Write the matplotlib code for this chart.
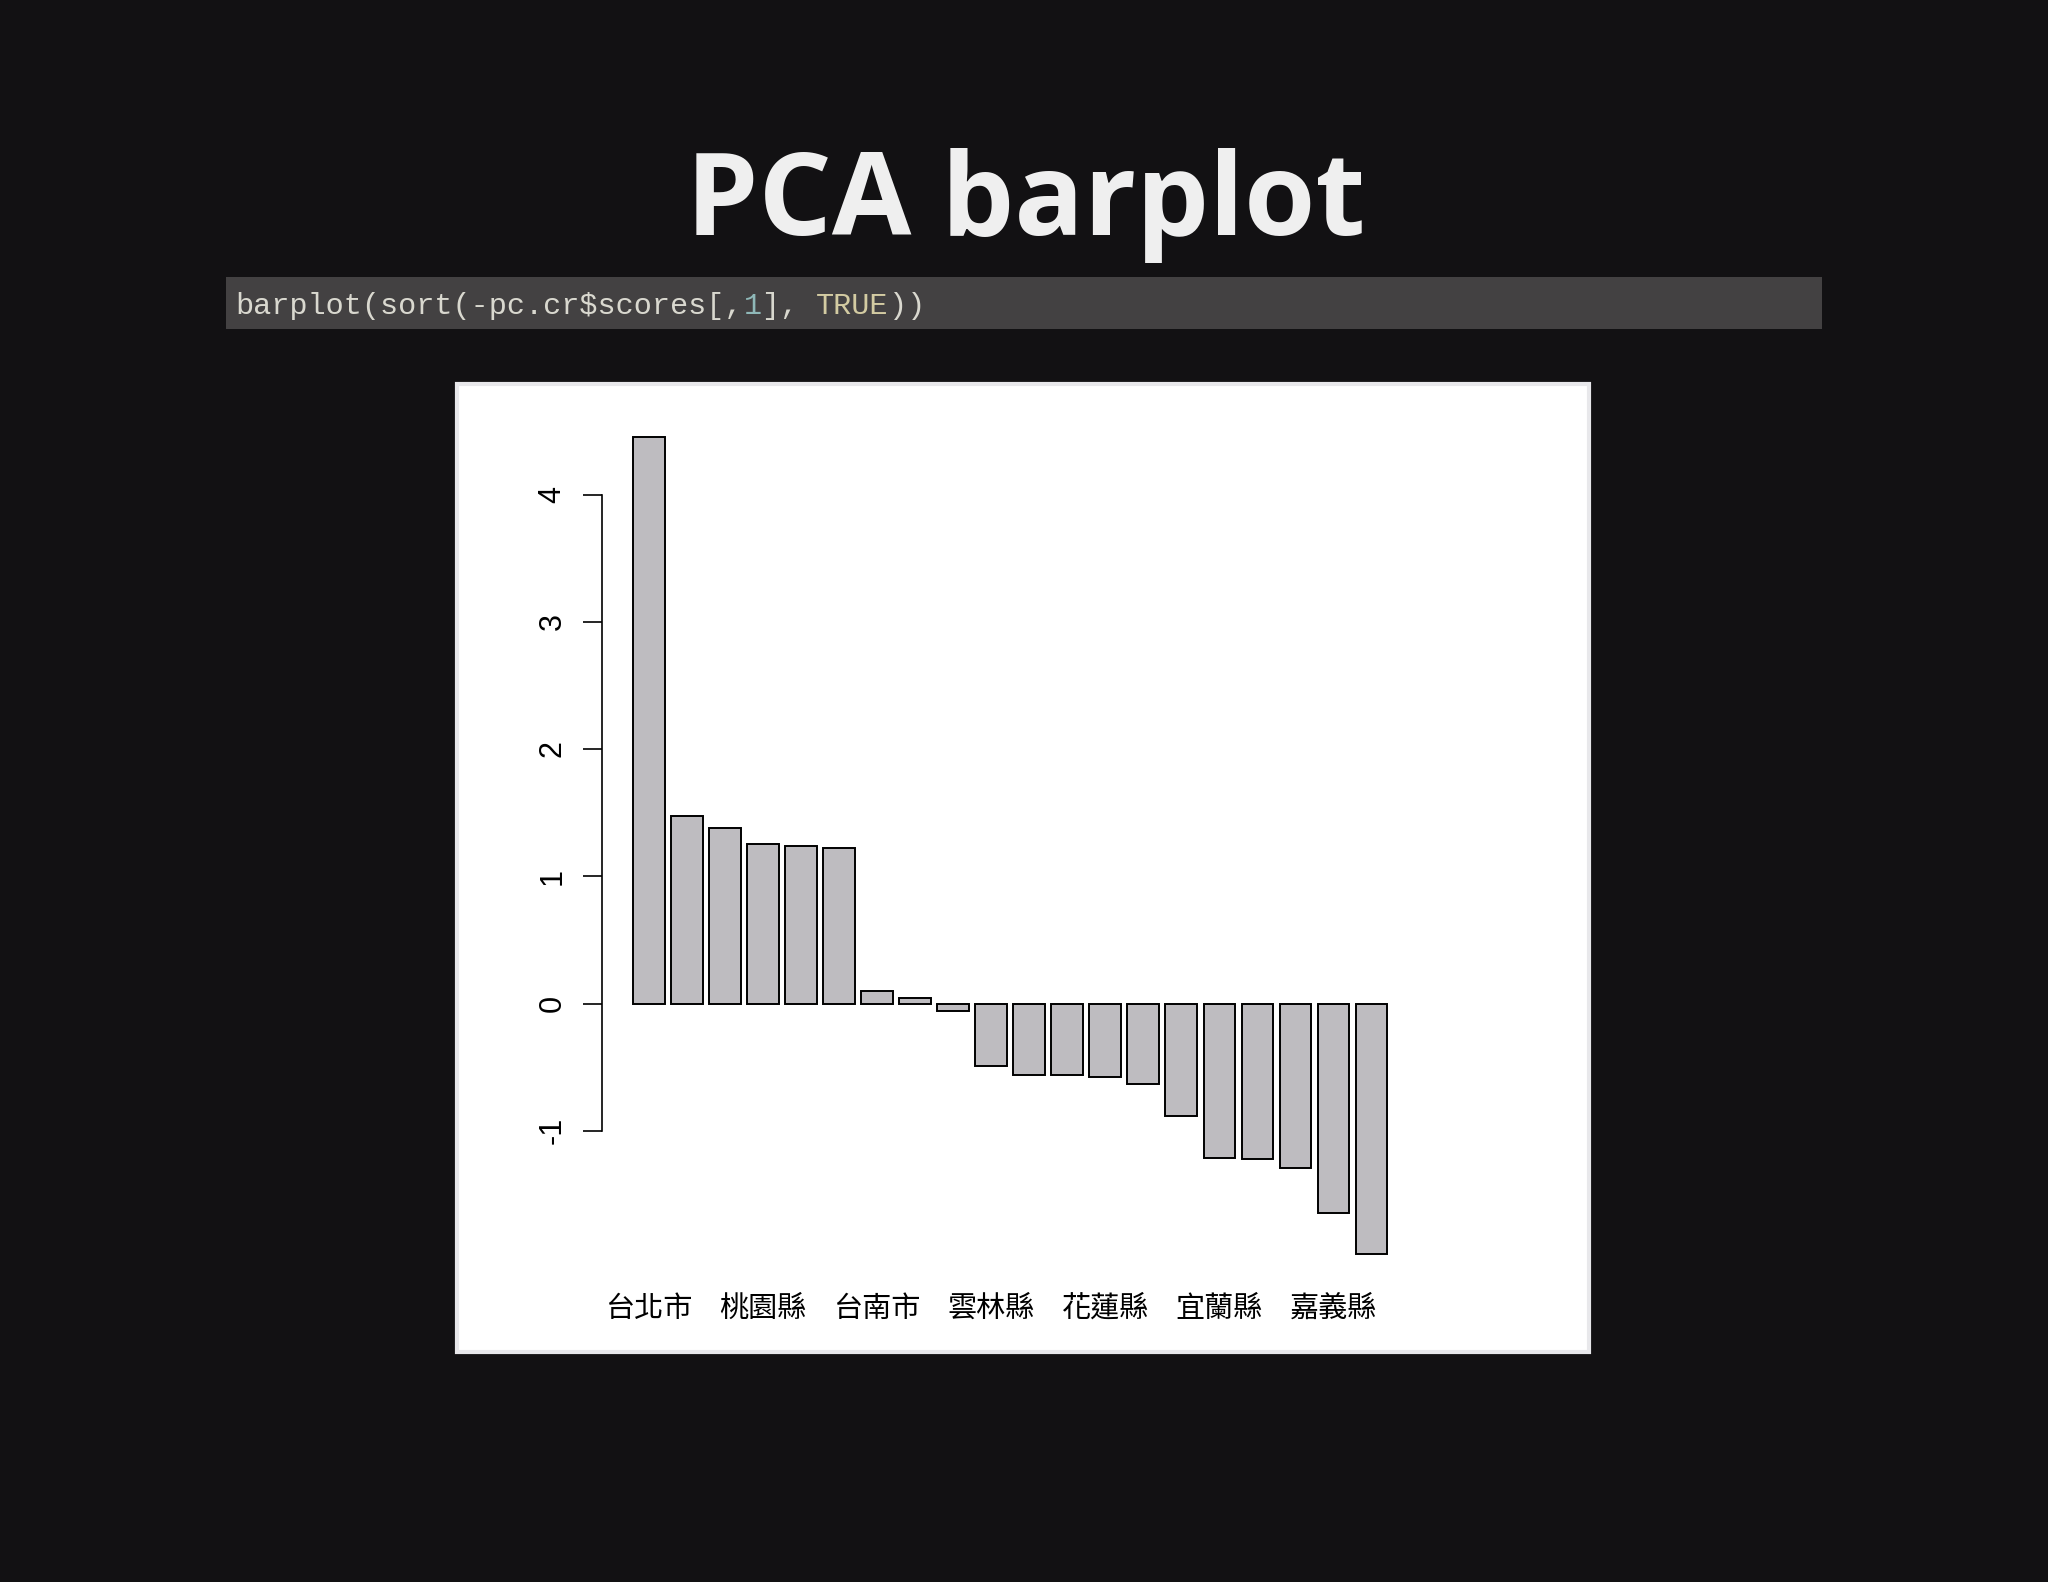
import matplotlib
matplotlib.use("Agg")
import matplotlib.pyplot as plt
from matplotlib.patches import Rectangle

# PC1 scores, sorted
scores = [4.45, 1.47, 1.38, 1.25, 1.235, 1.22, 0.10, 0.045, -0.06, -0.49,
          -0.56, -0.56, -0.58, -0.63, -0.88, -1.21, -1.22, -1.29, -1.65, -1.97]
# only every third name is printed by R, the others are hidden
names = ['台北市', '', '', '桃園縣', '', '', '台南市', '', '', '雲林縣',
         '', '', '花蓮縣', '', '', '宜蘭縣', '', '', '嘉義縣', '']
yticks = [-1, 0, 1, 2, 3, 4]

bg = '#121113'
fig = plt.figure(figsize=(20.48, 15.82), dpi=100, facecolor=bg)

# slide title
fig.text(0.5007, 0.8515, 'PCA barplot', ha='center', va='baseline',
         fontsize=83, fontweight='bold', family='Open Sans', color='#efefef')

# code line, coloured pieces placed char by char (monospace)
fig.patches.append(Rectangle((0.1104, 0.7920), 0.7793, 0.0329, transform=fig.transFigure,
                             facecolor='#434142', edgecolor='none', zorder=-2))
code_parts = [('barplot(sort(-pc.cr$scores[,', '#d9d8cf'), ('1', '#8fb8b8'),
              ('], ', '#d9d8cf'), ('TRUE', '#d3cba2'), ('))', '#d9d8cf')]
fs_code = 21.8
char_w = 0.6 * fs_code * 100 / 72 / 2048   # figure fraction per character
x = 0.1147
for s, c in code_parts:
    fig.text(x, 0.8018, s, ha='left', va='baseline', fontsize=fs_code,
             family='Liberation Mono', color=c, parse_math=False)
    x += len(s) * char_w

# white picture box
fig.patches.append(Rectangle((0.2231, 0.1454), 0.5527, 0.6119, transform=fig.transFigure,
                             facecolor='white', edgecolor='#e8e8eb', linewidth=3, zorder=-2))

ax = fig.add_axes([0.2939, 0.20076, 0.4141, 0.53492])
ax.set_zorder(2)
ax.set_facecolor('none')
centers = [0.7 + 1.2 * i for i in range(len(scores))]
ax.bar(centers, scores, width=1.0, color='#bebcc0', edgecolor='black', linewidth=1.4)

ax.set_xlim(-0.79, 25.98)
ax.set_ylim(-2.05, 4.6)
for side in ['top', 'right', 'bottom']:
    ax.spines[side].set_visible(False)
ax.spines['left'].set_bounds(-1, 4)
ax.spines['left'].set_linewidth(1.2)

ax.set_yticks(yticks)
ax.set_yticklabels([str(t) for t in yticks], rotation=90, va='center',
                   family='Liberation Sans', fontsize=22)
ax.tick_params(axis='y', length=13.7, width=1.2, pad=11, colors='black')

ax.set_xticks(centers)
ax.set_xticklabels(names, family=['Noto Sans CJK TC', 'DejaVu Sans'], fontsize=21)
ax.tick_params(axis='x', length=0, pad=21)

fig.savefig('out.png', dpi=100, facecolor=bg)
